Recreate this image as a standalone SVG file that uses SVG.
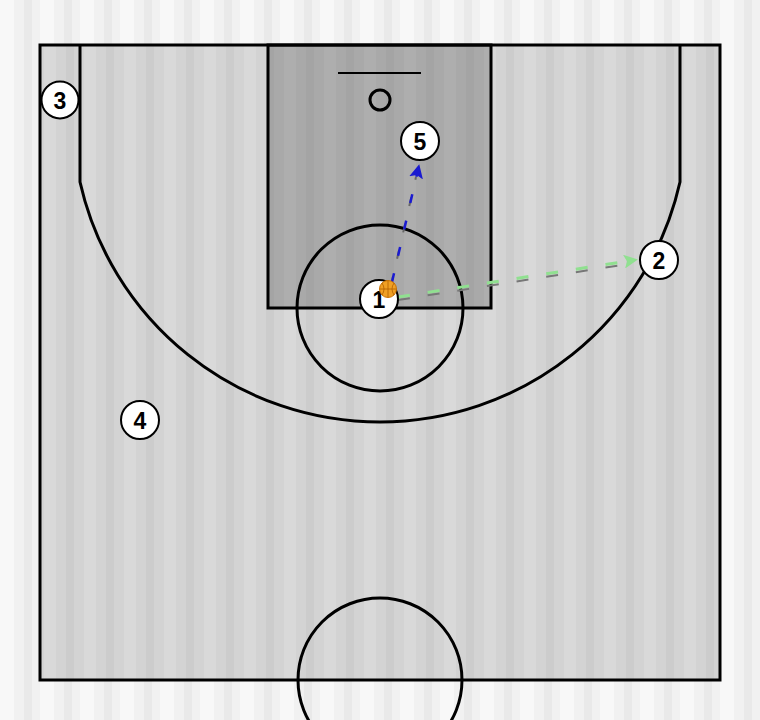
<svg xmlns="http://www.w3.org/2000/svg" width="760" height="720" viewBox="0 0 760 720">
<style>
.line{fill:none;stroke:#000;stroke-width:3}
.player circle{fill:#fff;stroke:#000;stroke-width:2}
.player text{font-family:"Liberation Sans",Arial,sans-serif;font-weight:bold;font-size:23px;text-anchor:middle;fill:#000}
</style>
<defs>
<pattern id="bgtex" width="40" height="40" patternUnits="userSpaceOnUse">
<rect width="40" height="40" fill="#f1f1f1"/>
<rect x="0" y="0" width="14" height="40" fill="#f8f8f8"/>
<rect x="24" y="0" width="8" height="40" fill="#e9e9e9"/>
</pattern>
<pattern id="courttex" width="40" height="40" patternUnits="userSpaceOnUse">
<rect width="40" height="40" fill="#d3d3d3"/>
<rect x="4" y="0" width="12" height="40" fill="#d9d9d9"/>
<rect x="26" y="0" width="8" height="40" fill="#cccccc"/>
</pattern>
<pattern id="keytex" width="40" height="40" patternUnits="userSpaceOnUse">
<rect width="40" height="40" fill="#a9a9a9"/>
<rect x="4" y="0" width="12" height="40" fill="#aeaeae"/>
<rect x="26" y="0" width="8" height="40" fill="#a4a4a4"/>
</pattern>
<marker id="blueHead" markerWidth="14" markerHeight="14" refX="4" refY="7" orient="auto" markerUnits="userSpaceOnUse">
<path d="M0,0 L14,7 L0,14 L3,7 Z" fill="#1a1ad0"/>
</marker>
<marker id="greenHead" markerWidth="14" markerHeight="14" refX="4" refY="7" orient="auto" markerUnits="userSpaceOnUse">
<path d="M0,0 L14,7 L0,14 L3,7 Z" fill="#90e090"/>
</marker>
</defs>
<rect width="760" height="720" fill="url(#bgtex)"/>
<g id="court">
<rect x="40" y="45" width="680" height="635" fill="url(#courttex)"/>
<rect x="268" y="45" width="223" height="263" fill="url(#keytex)" stroke="#000" stroke-width="3"/>
<path class="line" d="M80,45 L80,182 A307.5,307.5 0 0 0 680,182 L680,45"/>
<circle class="line" cx="380" cy="308" r="83"/>
<circle class="line" cx="380" cy="680" r="82"/>
<line x1="338" y1="73" x2="421" y2="73" stroke="#000" stroke-width="2"/>
<circle class="line" cx="380" cy="100" r="10"/>
<rect x="40" y="45" width="680" height="635" class="line"/>
</g>
<g id="connectors">
<line x1="392" y1="282" x2="417" y2="174" stroke="#666" stroke-width="2" stroke-dasharray="9,18" transform="translate(-1,3)"/>
<line x1="392" y1="282" x2="417" y2="174" stroke="#1a1ad0" stroke-width="2.5" stroke-dasharray="9,18" marker-end="url(#blueHead)"/>
<line x1="398" y1="297" x2="628" y2="261" stroke="#777" stroke-width="2" stroke-dasharray="12,18" transform="translate(0,3)"/>
<line x1="398" y1="297" x2="628" y2="261" stroke="#90e090" stroke-width="3" stroke-dasharray="12,18" marker-end="url(#greenHead)"/>
</g>
<g id="p3" class="player"><circle cx="60" cy="100" r="18.5"/><text x="60" y="108.5">3</text></g>
<g id="p5" class="player"><circle cx="420" cy="141" r="19"/><text x="420" y="149.5">5</text></g>
<g id="p2" class="player"><circle cx="659" cy="260" r="19"/><text x="659" y="268.5">2</text></g>
<g id="p4" class="player"><circle cx="140" cy="420" r="19"/><text x="140" y="428.5">4</text></g>
<g id="p1" class="player"><circle cx="379" cy="299" r="19"/><text x="379" y="307.5">1</text></g>
<g id="ball">
<circle cx="388" cy="289" r="8.5" fill="#f0a024" stroke="#c87000" stroke-width="1"/>
<path d="M380,289 H396 M388,281 V297 M382,283 Q386,289 382,295 M394,283 Q390,289 394,295" fill="none" stroke="#b06000" stroke-width="0.8"/>
</g>
</svg>
